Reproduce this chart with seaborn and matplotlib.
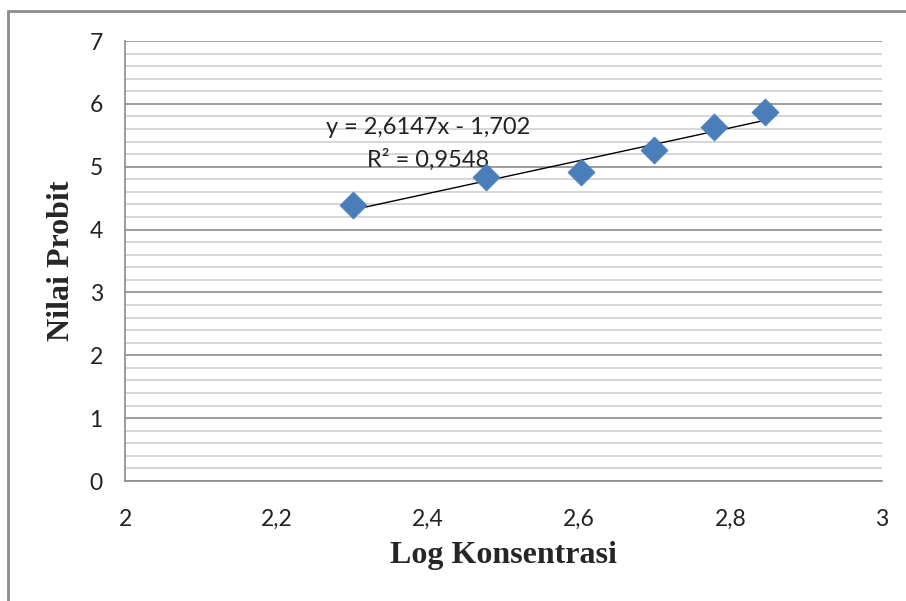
import numpy as np
import pandas as pd
import seaborn as sns
import matplotlib.pyplot as plt
from matplotlib.ticker import MultipleLocator, FuncFormatter
from matplotlib.patches import Rectangle

# data
log_konsentrasi = [2.301, 2.477, 2.602, 2.699, 2.778, 2.845]
nilai_probit = [4.39, 4.84, 4.92, 5.27, 5.63, 5.87]
slope = 2.6147
intercept = -1.702
r2 = 0.9548
x_ticks = [2, 2.2, 2.4, 2.6, 2.8, 3]
y_ticks = [0, 1, 2, 3, 4, 5, 6, 7]

df = pd.DataFrame({'x': log_konsentrasi, 'y': nilai_probit})
trend_x = np.array([min(log_konsentrasi), max(log_konsentrasi)])
trend = pd.DataFrame({'x': trend_x, 'y': slope * trend_x + intercept})

sns.set_style('white')
plt.rcParams['font.family'] = ['Lato', 'DejaVu Sans']

fig = plt.figure(figsize=(9.06, 6.01), dpi=100)
ax = fig.add_axes([125/906, 1 - 481/601, (882-125)/906, (481-41)/601])

# grid lines like excel
ax.yaxis.set_minor_locator(MultipleLocator(0.2))
ax.grid(axis='y', which='minor', color='#d0d0d0', linewidth=1.2)
ax.grid(axis='y', which='major', color='#8c8c8c', linewidth=1.2)
ax.set_axisbelow(True)

sns.lineplot(data=trend, x='x', y='y', color='black', linewidth=1, ax=ax, zorder=3)
sns.scatterplot(data=df, x='x', y='y', marker='D', s=190, color='#4a7ebb',
                edgecolor='#4a7ebb', linewidth=0.5, ax=ax, zorder=4)

ax.set_xlim(2, 3)
ax.set_ylim(0, 7)
ax.set_xticks(x_ticks)
ax.set_yticks(y_ticks)
comma = FuncFormatter(lambda v, p: f'{v:g}'.replace('.', ','))
ax.xaxis.set_major_formatter(comma)
ax.yaxis.set_major_formatter(comma)
ax.tick_params(axis='both', which='major', direction='out', length=8, width=1.2,
               color='#8c8c8c', labelsize=16.5, labelcolor='#222222')
ax.tick_params(axis='x', pad=12)
ax.tick_params(axis='y', pad=8)
ax.tick_params(axis='y', which='minor', length=0)

for s in ['top', 'right']:
    ax.spines[s].set_visible(False)
for s in ['left', 'bottom']:
    ax.spines[s].set_color('#8c8c8c')
    ax.spines[s].set_linewidth(1.2)

ax.set_xlabel('Log Konsentrasi', family='Liberation Serif', fontweight='bold',
              fontsize=23, labelpad=8)
ax.set_ylabel('Nilai Probit', family='Liberation Serif', fontweight='bold',
              fontsize=23, labelpad=10)

eq = f'y = {slope:g}x - {abs(intercept):g}'.replace('.', ',')
rr = f'R² = {r2:g}'.replace('.', ',')
ax.text(2.40, 5.62, eq, ha='center', va='center', fontsize=17, color='#222222')
ax.text(2.40, 5.11, rr, ha='center', va='center', fontsize=17, color='#222222')

# outer chart border
fig.patches.append(Rectangle((8/906, -0.1), 1.2, 1 - 11/601 + 0.1,
                             transform=fig.transFigure, fill=False,
                             edgecolor='#8c8c8c', linewidth=2))

fig.savefig('out.png', dpi=100)
